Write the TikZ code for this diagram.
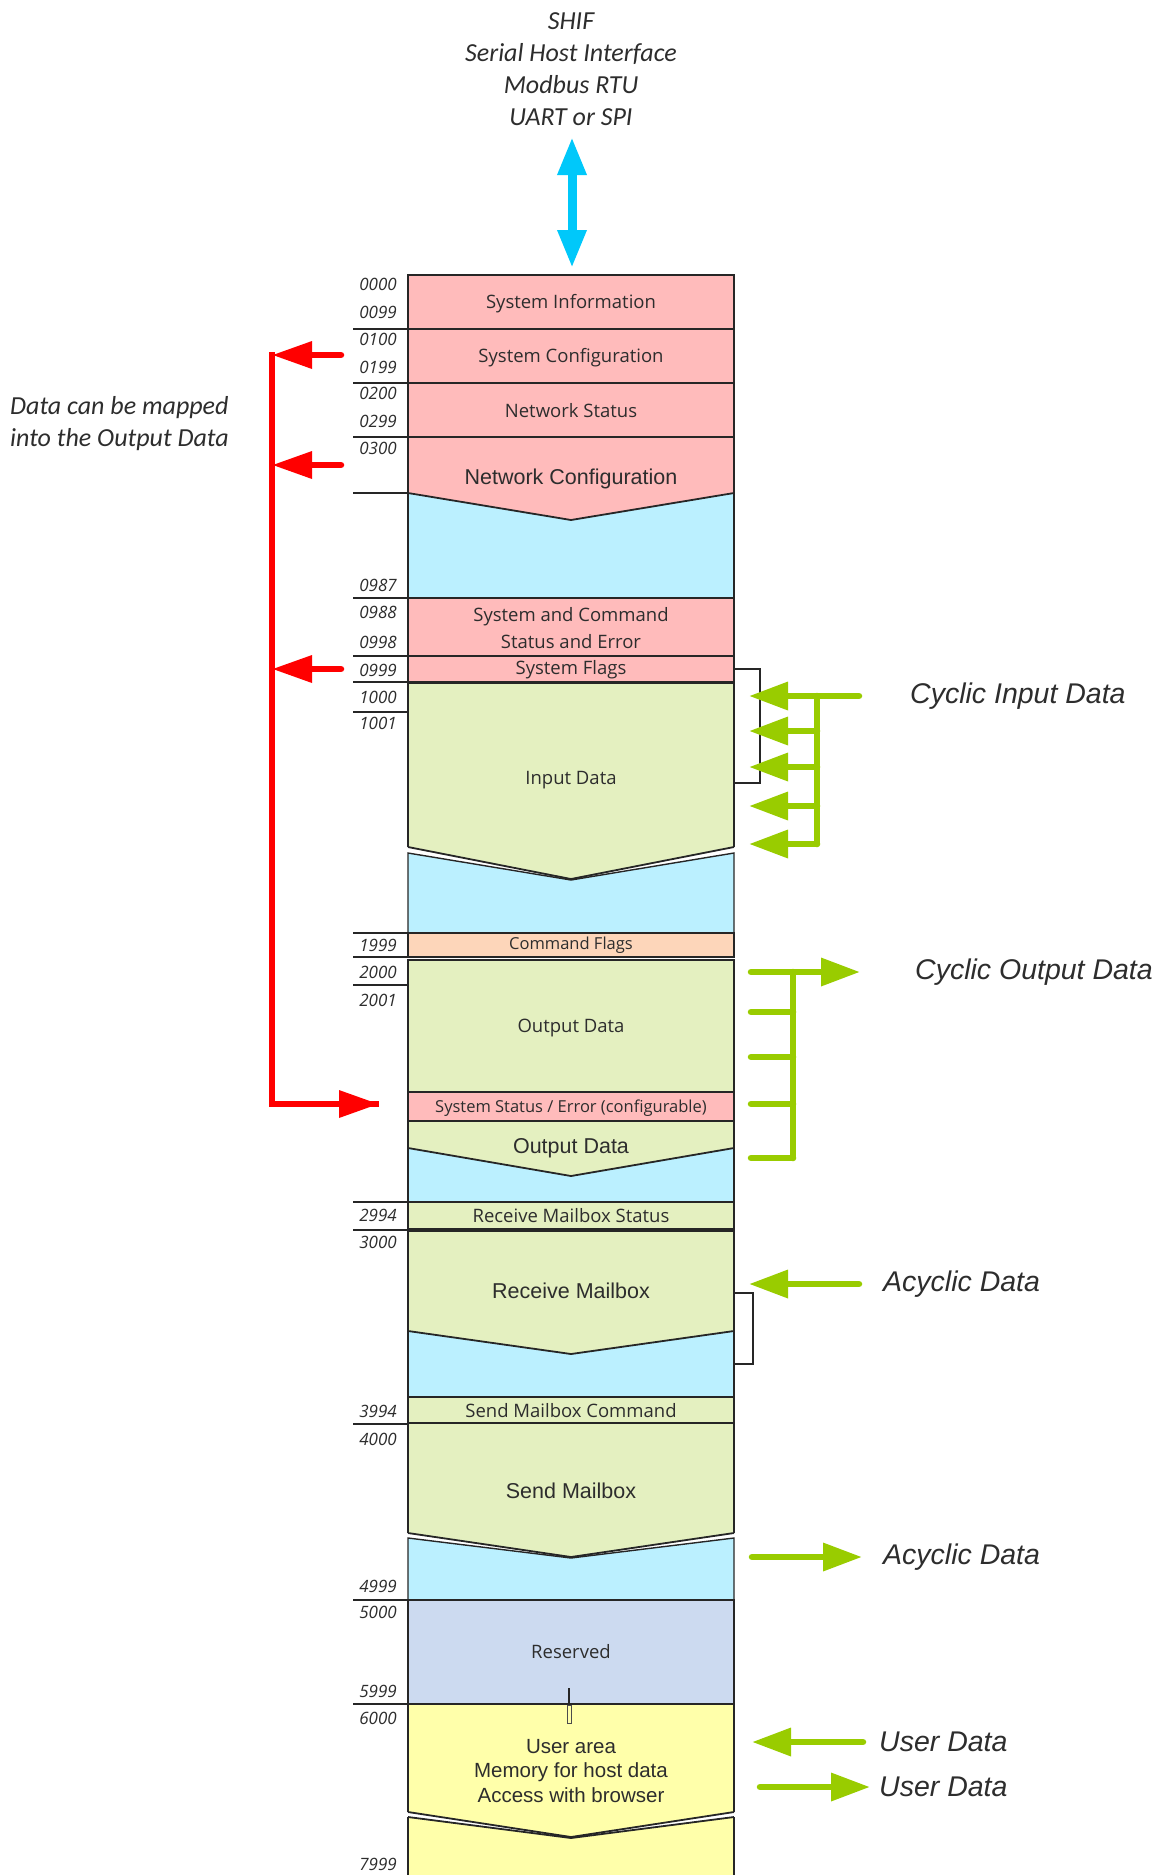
\documentclass[tikz,border=0pt]{standalone}
\usepackage{fontspec}
\setmainfont{Open Sans}
\newfontfamily\arialf{Liberation Sans}
\newfontfamily\calf{Carlito}
\usetikzlibrary{arrows.meta}
\definecolor{pinkc}{RGB}{255,187,187}
\definecolor{bluec}{RGB}{187,240,255}
\definecolor{greenc}{RGB}{228,240,192}
\definecolor{peachc}{RGB}{253,214,186}
\definecolor{resc}{RGB}{204,218,240}
\definecolor{yelc}{RGB}{255,255,170}
\definecolor{arrg}{RGB}{153,204,0}
\definecolor{arrb}{RGB}{0,200,250}
\definecolor{arrr}{RGB}{255,0,0}
\definecolor{txt}{RGB}{45,45,45}
\newcommand\addrfont{\fontsize{17}{17}\selectfont\itshape}
\newcommand\boxfont{\fontsize{18.5}{27}\selectfont}
\newcommand\smallboxfont{\fontsize{16.5}{20}\selectfont}
\newcommand\arialboxfont{\arialf\fontsize{21.5}{24.5}\selectfont}
\newcommand\sidefont{\arialf\fontsize{28.5}{30}\selectfont\itshape}
\newcommand\notefont{\calf\fontsize{26}{32}\selectfont\itshape}
\begin{document}
\begin{tikzpicture}[x=1pt,y=-1pt,
  cell/.style={draw=black!85, line width=1.4pt},
  chev/.style={draw=black!85, line width=1.8pt, line join=round},
  sepline/.style={draw=black!85, line width=1.4pt},
  addr/.style={font=\addrfont, anchor=east, inner sep=0pt, text=txt},
  boxt/.style={font=\boxfont, inner sep=0pt, text=txt, align=center},
  sboxt/.style={font=\smallboxfont, inner sep=0pt, text=txt},
  aboxt/.style={font=\arialboxfont, inner sep=0pt, text=txt, align=center},
  sidet/.style={font=\sidefont, anchor=west, inner sep=0pt, text=txt},
  notet/.style={font=\notefont, inner sep=0pt, text=txt},
  garrow/.style={draw=arrg, line width=6.5pt, line cap=round, -{Triangle[length=39pt,width=27pt]}},
  gline/.style={draw=arrg, line width=6.5pt, line cap=round},
  rarrow/.style={draw=arrr, line width=6.5pt, -{Triangle[length=40pt,width=26pt]}},
  barrow/.style={draw=arrb, line width=9pt, {Triangle[length=38pt,width=27pt]}-{Triangle[length=38pt,width=27pt]}},
  bracket/.style={draw=black!85, line width=1.4pt}
]
\useasboundingbox (0,0) rectangle (1160,1875);

% ---------- rows ----------
\path[cell, fill=pinkc] (408,275) rectangle (734,329);
\path[cell, fill=pinkc] (408,329) rectangle (734,383);
\path[cell, fill=pinkc] (408,383) rectangle (734,437);
\path[cell, fill=bluec] (408,493) rectangle (734,598);
\path[fill=pinkc] (408,437) -- (734,437) -- (734,493) -- (571,520) -- (408,493) -- cycle;
\draw[cell] (408,493) -- (408,437) -- (734,437) -- (734,493);
\draw[chev] (408,493) -- (571,520) -- (734,493);
\path[cell, fill=pinkc] (408,598) rectangle (734,656);
\path[cell, fill=pinkc] (408,656) rectangle (734,682);
% input data
\path[cell, fill=bluec] (408,853) -- (571,880) -- (734,853) -- (734,933) -- (408,933) -- cycle;
\path[fill=greenc] (408,683) -- (734,683) -- (734,847) -- (571,879) -- (408,847) -- cycle;
\draw[cell] (408,847) -- (408,683) -- (734,683) -- (734,847);
\draw[chev] (408,847) -- (571,879) -- (734,847);
\path[cell, fill=peachc] (408,933) rectangle (734,957);
% output data
\path[cell, fill=greenc] (408,960) rectangle (734,1092);
\path[cell, fill=pinkc] (408,1092) rectangle (734,1121);
\path[cell, fill=bluec] (408,1148) rectangle (734,1202);
\path[fill=greenc] (408,1121) -- (734,1121) -- (734,1148) -- (571,1176) -- (408,1148) -- cycle;
\draw[cell] (408,1148) -- (408,1121) -- (734,1121) -- (734,1148);
\draw[chev] (408,1148) -- (571,1176) -- (734,1148);
% receive mailbox
\path[cell, fill=greenc] (408,1202) rectangle (734,1229);
\path[cell, fill=bluec] (408,1331) rectangle (734,1397);
\path[fill=greenc] (408,1231) -- (734,1231) -- (734,1331) -- (571,1354) -- (408,1331) -- cycle;
\draw[cell] (408,1331) -- (408,1231) -- (734,1231) -- (734,1331);
\draw[chev] (408,1331) -- (571,1354) -- (734,1331);
% send mailbox
\path[cell, fill=greenc] (408,1397) rectangle (734,1423);
\path[cell, fill=bluec] (408,1538) -- (571,1558) -- (734,1538) -- (734,1600) -- (408,1600) -- cycle;
\path[fill=greenc] (408,1423) -- (734,1423) -- (734,1533) -- (571,1557) -- (408,1533) -- cycle;
\draw[cell] (408,1533) -- (408,1423) -- (734,1423) -- (734,1533);
\draw[chev] (408,1533) -- (571,1557) -- (734,1533);
% reserved
\path[cell, fill=resc] (408,1600) rectangle (734,1704);
% user area
\path[fill=yelc] (408,1817) -- (571,1838) -- (734,1817) -- (734,1876) -- (408,1876) -- cycle;
\draw[cell] (408,1876) -- (408,1817);
\draw[cell] (734,1876) -- (734,1817);
\draw[chev] (408,1817) -- (571,1838) -- (734,1817);
\path[fill=yelc] (408,1704) -- (734,1704) -- (734,1812) -- (571,1837) -- (408,1812) -- cycle;
\draw[cell] (408,1812) -- (408,1704) -- (734,1704) -- (734,1812);
\draw[chev] (408,1812) -- (571,1837) -- (734,1812);
% small tick
\draw[black!85, line width=1.2pt] (569,1688) -- (569,1704);
\draw[black!70, line width=0.8pt, fill=yelc] (567.5,1705) rectangle (571.5,1723);

% ---------- left separator lines ----------
\foreach \yy in {329,383,437,493,598,656,682,712,933,957,985,1202,1230,1424,1600,1704}
  \draw[sepline] (353,\yy) -- (408,\yy);

% ---------- address labels ----------
\node[addr] (a0000) at (397,284) {0000};
\node[addr] (a0099) at (397,312) {0099};
\node[addr] (a0100) at (397,339) {0100};
\node[addr] (a0199) at (397,367) {0199};
\node[addr] (a0200) at (397,393) {0200};
\node[addr] (a0299) at (397,421) {0299};
\node[addr] (a0300) at (397,448) {0300};
\node[addr] (a0987) at (397,585) {0987};
\node[addr] (a0988) at (397,612) {0988};
\node[addr] (a0998) at (397,642) {0998};
\node[addr] (a0999) at (397,670) {0999};
\node[addr] (a1000) at (397,697) {1000};
\node[addr] (a1001) at (397,723) {1001};
\node[addr] (a1999) at (397,945) {1999};
\node[addr] (a2000) at (397,972) {2000};
\node[addr] (a2001) at (397,1000) {2001};
\node[addr] (a2994) at (397,1215) {2994};
\node[addr] (a3000) at (397,1242) {3000};
\node[addr] (a3994) at (397,1411) {3994};
\node[addr] (a4000) at (397,1439) {4000};
\node[addr] (a4999) at (397,1586) {4999};
\node[addr] (a5000) at (397,1612) {5000};
\node[addr] (a5999) at (397,1691) {5999};
\node[addr] (a6000) at (397,1718) {6000};
\node[addr] (a7999) at (397,1864) {7999};

% ---------- box texts ----------
\node[boxt] (tsysinfo) at (571,304) {System Information};
\node[boxt] (tsyscfg) at (571,358) {System Configuration};
\node[boxt] (tnetst) at (571,411) {Network Status};
\node[aboxt] (tnetcfg) at (571,479) {Network Configuration};
\node[boxt] (tsyscmd) at (571,628) {System and Command\\Status and Error};
\node[boxt] (tsysfl) at (571,670) {System Flags};
\node[boxt] (tinput) at (571,780) {Input Data};
\node[sboxt] (tcmdfl) at (571,945) {Command Flags};
\node[boxt] (toutput) at (571,1028) {Output Data};
\node[sboxt] (tsysst) at (571,1108) {System Status / Error (configurable)};
\node[aboxt] (toutput2) at (571,1148) {Output Data};
\node[boxt] (trmbst) at (571,1216) {Receive Mailbox Status};
\node[aboxt] (trmb) at (571,1291) {Receive Mailbox};
\node[boxt] (tsmbcmd) at (571,1411) {Send Mailbox Command};
\node[aboxt] (tsmb) at (571,1491) {Send Mailbox};
\node[boxt] (tres) at (571,1652) {Reserved};
\node[aboxt, font=\arialf\fontsize{20.5}{24.5}\selectfont] (tuser) at (571,1771) {User area\\Memory for host data\\Access with browser};

% ---------- notes ----------
\node[notet, align=center] (shif) at (571,69) {SHIF\\Serial Host Interface\\Modbus RTU\\UART or SPI};
\node[notet, align=left, anchor=west] (mapnote) at (10,424) {Data can be mapped\\into the Output Data};

% ---------- side labels ----------
\node[sidet] (lcin) at (910,696) {Cyclic Input Data};
\node[sidet] (lcout) at (915,972) {Cyclic Output Data};
\node[sidet] (lacy1) at (883,1284) {Acyclic Data};
\node[sidet] (lacy2) at (883,1557) {Acyclic Data};
\node[sidet] (lusr1) at (879,1742) {User Data};
\node[sidet] (lusr2) at (879,1787) {User Data};

% ---------- brackets ----------
\draw[bracket] (734,669) -- (760,669) -- (760,783) -- (734,783);
\draw[bracket] (734,1293) -- (753,1293) -- (753,1364) -- (734,1364);

% ---------- blue arrow ----------
\coordinate (bA) at (572,137);
\coordinate (bB) at (572,268);
\draw[barrow] (bA) -- (bB);

% ---------- red arrows ----------
\coordinate (rtop) at (272,352);
\coordinate (rcorner) at (272,1104);
\coordinate (rend) at (379,1104);
\draw[draw=arrr, line width=6.5pt, line join=miter] (rtop) -- (rcorner) -- (rend);
\draw[rarrow] (rcorner) -- (rend);
\foreach \yy/\nm in {355/r1,465/r2,669/r3}{
  \coordinate (\nm s) at (341,\yy);
  \coordinate (\nm e) at (272,\yy);
  \draw[rarrow, line cap=round] (\nm s) -- (\nm e);
}

% ---------- cyclic input arrows ----------
\coordinate (cit) at (817,696);
\coordinate (cib) at (817,844);
\draw[gline] (cit) -- (cib);
\coordinate (ci0) at (859,696);
\coordinate (ci1) at (749,696);
\draw[garrow] (ci0) -- (ci1);
\foreach \yy/\nm in {731/ca,767/cb,806/cc,844/cd}{
  \coordinate (\nm s) at (817,\yy);
  \coordinate (\nm e) at (749,\yy);
  \draw[garrow] (\nm s) -- (\nm e);
}

% ---------- cyclic output arrows ----------
\coordinate (cot) at (793,972);
\coordinate (cob) at (793,1158);
\draw[gline] (cot) -- (cob);
\coordinate (co0) at (751,972);
\coordinate (co1) at (860,972);
\draw[garrow] (co0) -- (co1);
\foreach \yy/\nm in {1012/oa,1057/ob,1104/oc,1158/od}{
  \coordinate (\nm s) at (751,\yy);
  \coordinate (\nm e) at (793,\yy);
  \draw[gline] (\nm s) -- (\nm e);
}

% ---------- acyclic / user arrows ----------
\coordinate (ac1s) at (859,1284);
\coordinate (ac1e) at (749,1284);
\draw[garrow] (ac1s) -- (ac1e);
\coordinate (ac2s) at (752,1557);
\coordinate (ac2e) at (862,1557);
\draw[garrow] (ac2s) -- (ac2e);
\coordinate (us1s) at (863,1742);
\coordinate (us1e) at (752,1742);
\draw[garrow] (us1s) -- (us1e);
\coordinate (us2s) at (760,1787);
\coordinate (us2e) at (870,1787);
\draw[garrow] (us2s) -- (us2e);
\end{tikzpicture}
\end{document}
